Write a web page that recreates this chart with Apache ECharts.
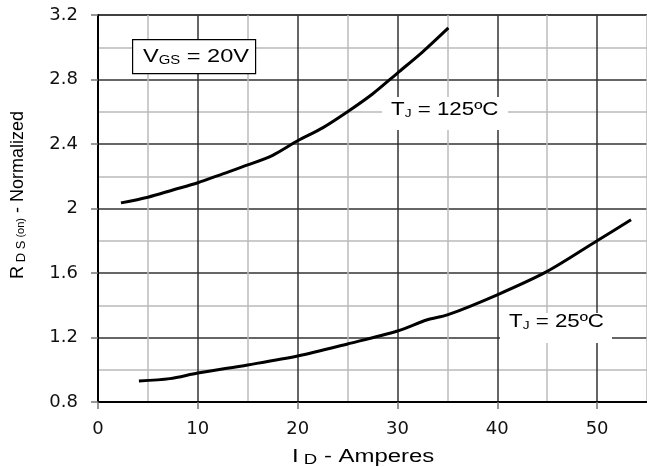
<!DOCTYPE html>
<html>
<head>
<meta charset="utf-8">
<script src="https://cdn.jsdelivr.net/npm/echarts@6/dist/echarts.min.js"></script>
<style>
  html, body { margin: 0; padding: 0; background: #fff; }
  #chart { width: 647px; height: 467px; }
</style>
</head>
<body>
<div id="chart"></div>
<script>
// curve values
var id125 = [2.3, 5, 7.5, 10, 12.5, 15, 17.5, 20, 22.5, 25, 27.5, 30, 32.5, 35.1];
var r125 = [2.035, 2.07, 2.115, 2.16, 2.215, 2.27, 2.33, 2.42, 2.5, 2.6, 2.71, 2.84, 2.97, 3.12];

var id25 = [4.1, 7.2, 10, 15, 20, 25, 30, 33, 35, 40, 45, 50, 53.4];
var r25 = [0.93, 0.945, 0.98, 1.03, 1.085, 1.16, 1.24, 1.31, 1.34, 1.465, 1.61, 1.8, 1.93];

var xMin = 0, xMax = 55, xStep = 10;
var yMin = 0.8, yMax = 3.2, yStep = 0.4;

function pairs(xs, ys) {
    return xs.map(function (x, i) { return [x, ys[i]]; });
}

var chart = echarts.init(document.getElementById('chart'), null, { renderer: 'canvas' });
var font = 'Liberation Sans, Arial, sans-serif';
var tickFont = 'DejaVu Sans, sans-serif';

// rich styles for the labels with subscripts
function richStyle(big, small) {
    return {
        b: { fontSize: big, fontFamily: font, fill: '#000', lineHeight: 24 },
        s: { fontSize: small, fontFamily: font, fill: '#000', lineHeight: 24, padding: [7, 0, 0, 0] }
    };
}

var option = {
    animation: false,
    backgroundColor: '#fff',
    grid: { left: 98, top: 15, right: -1, bottom: 65 },
    xAxis: [
        {
            type: 'value', min: xMin, max: xMax, interval: xStep,
            axisLine: { show: true, onZero: false, lineStyle: { color: '#000', width: 2 } },
            axisTick: { show: true, length: 7, lineStyle: { color: '#777', width: 1.5 } },
            axisLabel: { margin: 18, fontSize: 18, color: '#111', fontFamily: tickFont, showMaxLabel: false },
            splitLine: { show: false }
        },
        {
            // grid only: majors dark, minors light
            type: 'value', min: xMin, max: xMax, interval: xStep / 2, position: 'bottom',
            axisLine: { show: false }, axisTick: { show: false }, axisLabel: { show: false },
            splitLine: { show: true, lineStyle: { color: ['#333', '#bbb'], width: 1.5 } }
        }
    ],
    yAxis: {
        type: 'value', min: yMin, max: yMax, interval: yStep,
        axisLine: { show: true, lineStyle: { color: '#000', width: 2 } },
        axisTick: { show: true, length: 7, lineStyle: { color: '#777', width: 1.5 } },
        axisLabel: {
            margin: 20, fontSize: 18, color: '#111', fontFamily: tickFont,
            formatter: function (v) { return String(Math.round(v * 10) / 10); }
        },
        splitLine: { show: true, lineStyle: { color: ['#333', '#333', '#333', '#333', '#333', '#333', '#000'], width: 1.5 } },
        minorTick: { show: false, splitNumber: 2 },
        minorSplitLine: { show: true, lineStyle: { color: '#bbb', width: 1.5 } }
    },
    series: [
        {
            type: 'line', name: '125', smooth: 0.3, symbol: 'none', xAxisIndex: 0,
            lineStyle: { color: '#000', width: 3 },
            data: pairs(id125, r125), z: 5
        },
        {
            type: 'line', name: '25', smooth: 0.3, symbol: 'none', xAxisIndex: 0,
            lineStyle: { color: '#000', width: 3 },
            data: pairs(id25, r25), z: 5
        }
    ],
    graphic: [
        // VGS box
        {
            type: 'rect', left: 132, top: 39, z: 10,
            shape: { width: 123, height: 34 },
            style: { fill: '#fff', stroke: '#000', lineWidth: 1.2 }
        },
        {
            type: 'text', x: 143, y: 57, scaleX: 1.24, z: 11,
            style: {
                text: '{b|V}{s|GS}{b| = 20V}',
                verticalAlign: 'middle',
                rich: richStyle(19, 12)
            }
        },
        // TJ = 125
        {
            type: 'rect', left: 382, top: 97, z: 10,
            shape: { width: 126, height: 33 },
            style: { fill: '#fff' }
        },
        {
            type: 'text', x: 391, y: 110, scaleX: 1.24, z: 11,
            style: {
                text: '{b|T}{s|J}{b| = 125ºC}',
                verticalAlign: 'middle',
                rich: richStyle(18, 11)
            }
        },
        // TJ = 25
        {
            type: 'rect', left: 500, top: 313, z: 10,
            shape: { width: 112, height: 30 },
            style: { fill: '#fff' }
        },
        {
            type: 'text', x: 509, y: 322, scaleX: 1.24, z: 11,
            style: {
                text: '{b|T}{s|J}{b| = 25ºC}',
                verticalAlign: 'middle',
                rich: richStyle(18, 11)
            }
        },
        // x axis title
        {
            type: 'text', x: 292, y: 457, scaleX: 1.33, z: 11,
            style: {
                text: '{b|I}{s| D}{b| - Amperes}',
                verticalAlign: 'middle',
                rich: richStyle(18, 14)
            }
        },
        // y axis title
        {
            type: 'text', x: 18, y: 195, rotation: Math.PI / 2, z: 11,
            style: {
                text: '{b|R}{s| D S}{t| (on)}{b| - Normalized}',
                align: 'center',
                verticalAlign: 'middle',
                rich: {
                    b: { fontSize: 18, fontFamily: font, fill: '#000', lineHeight: 24 },
                    s: { fontSize: 13, fontFamily: font, fill: '#000', lineHeight: 24, padding: [6, 0, 0, 0] },
                    t: { fontSize: 11, fontFamily: font, fill: '#000', lineHeight: 24, padding: [5, 0, 0, 0] }
                }
            }
        }
    ]
};

chart.setOption(option);

window.onresize = function () {
    chart.resize();
};
</script>
</body>
</html>
